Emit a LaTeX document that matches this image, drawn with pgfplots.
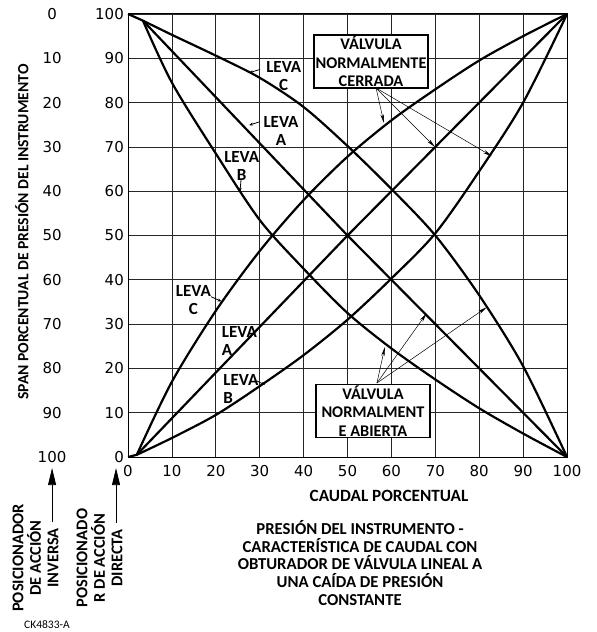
\documentclass[border=0pt]{standalone}
\usepackage{fontspec}
\setmainfont{Carlito}
\newfontfamily\digitfont{DejaVu Sans}
\usepackage{pgfplots}
\pgfplotsset{compat=1.18}
\usetikzlibrary{arrows.meta}

\newcommand\lbl{\bfseries\fontsize{17}{18}\selectfont}
\newcommand\boxfont{\bfseries\fontsize{16.3}{18.5}\selectfont}
\newcommand\dig{\digitfont\fontsize{15}{15}\selectfont}

\begin{document}
\begin{tikzpicture}
\begin{axis}[
  scale only axis, width=439pt, height=443pt,
  xmin=0, xmax=100, ymin=0, ymax=100,
  xtick={0,10,...,100}, ytick={0,10,...,100},
  grid=major, major grid style={black!85, line width=0.7pt},
  axis line style={black, line width=1pt},
  major tick length=0pt,
  /pgf/number format/assume math mode=true,
  ticklabel style={font=\dig, inner sep=0pt},
  yticklabel style={anchor=east, xshift=-4pt},
  xticklabel style={anchor=north, yshift=-8pt},
  clip=false,
]
% normally closed (rising)
\addplot[black, line width=2.2pt] coordinates {(0,0) (2,0.5)};
\addplot[black, line width=2.2pt, smooth] coordinates {
  (2,0.5) (10,17) (20,33) (30,46.5) (40,58) (50,67.8) (60,76) (70,83) (80,89.5) (90,95) (100,100)};
\addplot[black, line width=2.2pt] coordinates {(2,0.5) (50,50) (100,100)};
\addplot[black, line width=2.2pt, smooth] coordinates {
  (2,0.5) (10,4.3) (20,9.5) (30,16) (40,23) (50,31) (60,40.3) (70,50.5) (80,64.5) (90,80) (100,100)};
% normally open (falling)
\addplot[black, line width=2.2pt] coordinates {(0,100) (3.4,98.5)};
\addplot[black, line width=2.2pt, smooth] coordinates {
  (3.4,98.5) (10,95.3) (20,90.6) (30,85.6) (40,79) (50,70.2) (60,60.5) (70,50) (80,36.5) (90,20.5) (100,0)};
\addplot[black, line width=2.2pt] coordinates {(3.4,98.5) (50,50) (100,0)};
\addplot[black, line width=2.2pt, smooth] coordinates {
  (3.4,98.5) (10,84.5) (20,68.5) (30,53.5) (40,42.5) (50,32.5) (60,24.5) (70,17.5) (80,11) (90,5.3) (100,0)};

% pointer arrows from the boxes
\draw[-{Stealth[length=9pt,width=3.5pt]}, line width=0.5pt] (axis cs:56.5,83.3) -- (axis cs:58.3,75.4);
\draw[-{Stealth[length=9pt,width=3.5pt]}, line width=0.5pt] (axis cs:56.5,83.3) -- (axis cs:69.9,70.0);
\draw[-{Stealth[length=9pt,width=3.5pt]}, line width=0.5pt] (axis cs:56.5,83.3) -- (axis cs:82.9,67.9);
\draw[-{Stealth[length=9pt,width=3.5pt]}, line width=0.5pt] (axis cs:56.7,16.7) -- (axis cs:58.5,24.8);
\draw[-{Stealth[length=9pt,width=3.5pt]}, line width=0.5pt] (axis cs:56.7,16.7) -- (axis cs:68.0,32.4);
\draw[-{Stealth[length=9pt,width=3.5pt]}, line width=0.5pt] (axis cs:56.7,16.7) -- (axis cs:81.7,33.8);

\node[draw, line width=1.4pt, fill=white, align=center, minimum width=114pt,
  minimum height=53pt, inner sep=0pt, font=\boxfont] at (axis cs:55.35,89.3)
  {VÁLVULA\\NORMALMENTE\\CERRADA};
\node[draw, line width=1.4pt, fill=white, align=center, minimum width=114pt,
  minimum height=53pt, inner sep=0pt, font=\boxfont] at (axis cs:55.8,10.4)
  {VÁLVULA\\NORMALMENT\\E ABIERTA};

% cam labels
\node[align=center, inner sep=0pt, font=\lbl] at (axis cs:35.47,86.0) {LEVA\\C};
\node[align=center, inner sep=0pt, font=\lbl] at (axis cs:34.85,73.7) {LEVA\\A};
\node[align=center, inner sep=0pt, font=\lbl] at (axis cs:25.9,65.7) {LEVA\\B};
\node[align=center, inner sep=0pt, font=\lbl] at (axis cs:14.9,35.4) {LEVA\\C};
\node[align=left, anchor=west, inner sep=0pt, font=\lbl] at (axis cs:21.34,26.2) {LEVA\\A};
\node[align=left, anchor=west, inner sep=0pt, font=\lbl] at (axis cs:21.7,15.35) {LEVA\\B};
\draw[-{Stealth[length=4pt,width=3pt]}, line width=0.8pt] (axis cs:30.07,87.5) -- (axis cs:27.56,86.7);
\draw[-{Stealth[length=4pt,width=3pt]}, line width=0.8pt] (axis cs:30.07,75.7) -- (axis cs:27.56,74.9);
\draw[-{Stealth[length=4pt,width=3pt]}, line width=0.8pt] (axis cs:25.74,62.5) -- (axis cs:25.5,59.9);
\draw[-{Stealth[length=4pt,width=3pt]}, line width=0.8pt] (axis cs:18.9,36.2) -- (axis cs:21.3,35.1);
\draw[-{Stealth[length=4pt,width=3pt]}, line width=0.8pt] (axis cs:29.3,17.2) -- (axis cs:31.2,16.25);

% reverse-action scale
\pgfplotsinvokeforeach{0,...,10}{
  \node[font=\dig] at (axis cs:-17.3,{100-10*#1}) {\the\numexpr10*#1\relax};
}
\draw[-{Triangle[length=17pt,width=8pt]}, line width=0.7pt] (axis cs:-17.3,-14.7) -- (axis cs:-17.3,-2.5);
\draw[-{Triangle[length=17pt,width=8pt]}, line width=0.7pt] (axis cs:-2.73,-14.9) -- (axis cs:-2.73,-2.5);
\node[rotate=90, align=center, font=\bfseries\fontsize{16.4}{17.5}\selectfont] at (axis cs:-21.07,-22.8)
  {POSICIONADOR\\DE ACCIÓN\\INVERSA};
\node[rotate=90, align=center, font=\bfseries\fontsize{16.4}{17.5}\selectfont] at (axis cs:-6.49,-22.8)
  {POSICIONADO\\R DE ACCIÓN\\DIRECTA};

\node[font=\bfseries\fontsize{17.2}{18}\selectfont] at (axis cs:59.45,-8.8) {CAUDAL PORCENTUAL};
\node[rotate=90, font=\bfseries\fontsize{15.6}{18}\selectfont] at (axis cs:-24.15,50.8) {SPAN PORCENTUAL DE PRESIÓN DEL INSTRUMENTO};
\node[align=center, font=\bfseries\fontsize{16.7}{17.7}\selectfont] at (axis cs:52.85,-23.9)
  {PRESIÓN DEL INSTRUMENTO -\\CARACTERÍSTICA DE CAUDAL CON\\OBTURADOR DE VÁLVULA LINEAL A\\UNA CAÍDA DE PRESIÓN\\CONSTANTE};
\node[font=\fontsize{11.5}{12}\selectfont] at (axis cs:-18.45,-37.9) {CK4833-A};

\coordinate (bbl) at (axis cs:-29.16,-39.5);
\coordinate (btr) at (axis cs:106.6,103.16);
\end{axis}
\pgfresetboundingbox
\path[use as bounding box] (bbl) rectangle (btr);
\end{tikzpicture}
\end{document}
